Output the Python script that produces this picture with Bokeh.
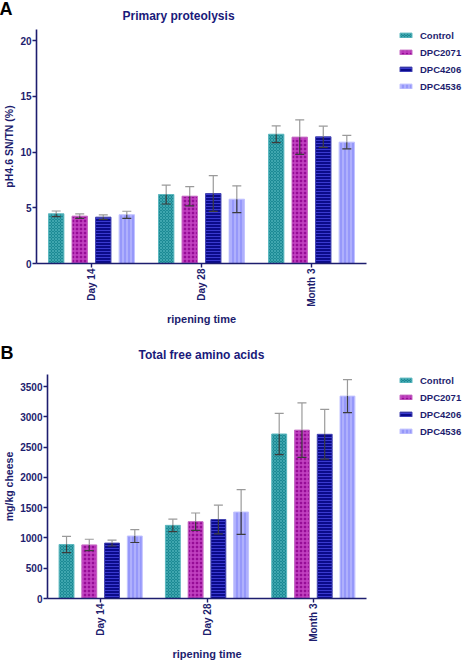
from bokeh.plotting import figure
from bokeh.models import (ColumnDataSource, FactorRange, Range1d, Whisker, TeeHead,
                          Legend, LegendItem, FixedTicker, Title)
from bokeh.transform import dodge
from bokeh.layouts import column, row
from bokeh.embed import file_html
from bokeh.resources import INLINE
from math import pi

# ---------------- data ----------------
groups = ["Day 14", "Day 28", "Month 3"]
series = ["Control", "DPC2071", "DPC4206", "DPC4536"]

# Panel A: pH4.6 SN/TN (%)
a_control = [4.46, 6.19, 11.60]
a_dpc2071 = [4.25, 6.04, 11.34]
a_dpc4206 = [4.16, 6.28, 11.37]
a_dpc4536 = [4.37, 5.77, 10.89]
a_control_sd = [0.25, 0.85, 0.75]
a_dpc2071_sd = [0.20, 0.86, 1.55]
a_dpc4206_sd = [0.20, 1.60, 0.95]
a_dpc4536_sd = [0.32, 1.20, 0.60]
a_ticks = [0, 5, 10, 15, 20]

# Panel B: total free amino acids (mg/kg cheese)
b_control = [892, 1208, 2717]
b_dpc2071 = [885, 1268, 2781]
b_dpc4206 = [915, 1305, 2712]
b_dpc4536 = [1032, 1428, 3343]
b_control_sd = [135, 102, 342]
b_dpc2071_sd = [94, 144, 450]
b_dpc4206_sd = [48, 236, 411]
b_dpc4536_sd = [107, 369, 273]
b_ticks = [0, 500, 1000, 1500, 2000, 2500, 3000, 3500]

# ---------------- styles ----------------
NAVY = "#1d1d6e"
styles = [
    dict(fill_color="#1b8a94", line_color="#5fb9c0", hatch_pattern="x", hatch_color="#4fb2ba",
         hatch_scale=3, hatch_weight=0.7),
    dict(fill_color="#960c96", line_color="#c66ac4", hatch_pattern="+", hatch_color="#c444c3",
         hatch_scale=4, hatch_weight=1.5),
    dict(fill_color="#0b0b8a", line_color="#4444b0", hatch_pattern="-", hatch_color="#3a3ad0",
         hatch_scale=3, hatch_weight=1),
    dict(fill_color="#9698fa", line_color="#c2c3ff", hatch_pattern="|", hatch_color="#c8c8ff",
         hatch_scale=4, hatch_weight=1),
]
offsets = [-0.321, -0.107, 0.107, 0.321]
FONT = "Liberation Sans"
W_MAIN = 368
W_LEG = 95


def make_panel(letter, title, ylabel, means, sds, y_end, ticks, h, top, bottom,
               title_offset, title_standoff, letter_offset, letter_standoff, legend_top):
    p = figure(x_range=FactorRange(*groups, range_padding=0),
               y_range=Range1d(0, y_end), title=None,
               width=W_MAIN, height=h, output_backend="svg", toolbar_location=None,
               min_border_left=0, min_border_right=2, min_border_top=top,
               min_border_bottom=bottom, outline_line_color=None)
    t = Title(text=title, text_font=FONT, text_font_size="12px", text_font_style="bold",
              text_color="#1a1a7a", align="left", offset=title_offset,
              standoff=title_standoff)
    p.add_layout(t, "above")
    p.xgrid.visible = False
    p.ygrid.visible = False

    for i, name in enumerate(series):
        m = means[i]
        s = sds[i]
        src = ColumnDataSource(dict(x=groups, top=m,
                                    upper=[a + b for a, b in zip(m, s)],
                                    lower=[a - b for a, b in zip(m, s)]))
        xb = dodge("x", offsets[i], range=p.x_range)
        p.vbar(x=xb, top="top", width=0.14, source=src, line_width=1, **styles[i])
        up = Whisker(base=xb, upper="upper", lower="top", source=src, dimension="height",
                     line_color="#9a9a9a", line_width=1.2, level="overlay",
                     upper_head=TeeHead(size=9, line_color="#9a9a9a", line_width=1.2),
                     lower_head=None)
        lo = Whisker(base=xb, upper="top", lower="lower", source=src, dimension="height",
                     line_color="#3c3c3c", line_width=1.2, level="overlay",
                     lower_head=TeeHead(size=9, line_color="#3c3c3c", line_width=1.2),
                     upper_head=None)
        p.add_layout(up)
        p.add_layout(lo)

    for ax in (p.xaxis[0], p.yaxis[0]):
        ax.axis_line_color = NAVY
        ax.axis_line_width = 1.6
        ax.major_tick_line_color = NAVY
        ax.major_tick_line_width = 1.4
        ax.major_tick_out = 4
        ax.major_tick_in = 0
        ax.minor_tick_line_color = None
        ax.major_label_text_font = FONT
        ax.major_label_text_font_size = "10px"
        ax.major_label_text_font_style = "bold"
        ax.major_label_text_color = NAVY
        ax.axis_label_text_font = FONT
        ax.axis_label_text_font_size = "10.5px"
        ax.axis_label_text_font_style = "bold"
        ax.axis_label_text_color = NAVY
        ax.major_label_standoff = 1
        ax.axis_label_standoff = 2

    p.yaxis.ticker = FixedTicker(ticks=ticks)
    p.yaxis.axis_label = ylabel
    p.xaxis.axis_label = "ripening time"
    p.xaxis.major_label_orientation = pi / 2
    p.xaxis.axis_label_standoff = 3
    p.xaxis.axis_label_text_font_size = "11px"

    lt = Title(text=letter, text_font=FONT, text_font_size="18px", text_font_style="bold",
               text_color="black", align="left", offset=letter_offset,
               standoff=letter_standoff)
    p.add_layout(lt, "above")

    # legend lives in a narrow companion figure to the right; its proxy bars have
    # zero size so only the legend swatches show
    lf = figure(width=W_LEG, height=h, output_backend="svg", toolbar_location=None,
                x_axis_type=None, y_axis_type=None, outline_line_color=None, title=None,
                min_border_left=30, min_border_right=0, min_border_bottom=0,
                min_border_top=legend_top, x_range=Range1d(0, 1), y_range=Range1d(1, 2))
    lf.xgrid.visible = False
    lf.ygrid.visible = False
    items = []
    proxy = ColumnDataSource(dict(x=[0.5], top=[1.5], w=[0]))
    for i, name in enumerate(series):
        lr = lf.vbar(x="x", top="top", bottom="top", width="w", source=proxy, line_width=1,
                     **styles[i])
        items.append(LegendItem(label=name, renderers=[lr]))
    legend = Legend(items=items, location="top_left", margin=0, padding=0,
                    border_line_color=None, background_fill_alpha=0,
                    glyph_width=15, glyph_height=6, label_height=12, spacing=5,
                    label_standoff=7, label_text_font=FONT, label_text_font_size="9.5px",
                    label_text_font_style="bold", label_text_color=NAVY)
    lf.add_layout(legend)
    return row(p, lf, spacing=0)


pa = make_panel("A", "Primary proteolysis", "pH4.6 SN/TN (%)",
                [a_control, a_dpc2071, a_dpc4206, a_dpc4536],
                [a_control_sd, a_dpc2071_sd, a_dpc4206_sd, a_dpc4536_sd],
                21, a_ticks, 330, 28, 67, 86, 13, -37, -36, 18)
pb = make_panel("B", "Total free amino acids", "mg/kg cheese",
                [b_control, b_dpc2071, b_dpc4206, b_dpc4536],
                [b_control_sd, b_dpc2071_sd, b_dpc4206_sd, b_dpc4536_sd],
                3700, b_ticks, 332, 41, 61, 91, 26, -47, -60, 44)

layout = column(pa, pb, spacing=0)
open("out.html", "w").write(file_html(layout, INLINE))
